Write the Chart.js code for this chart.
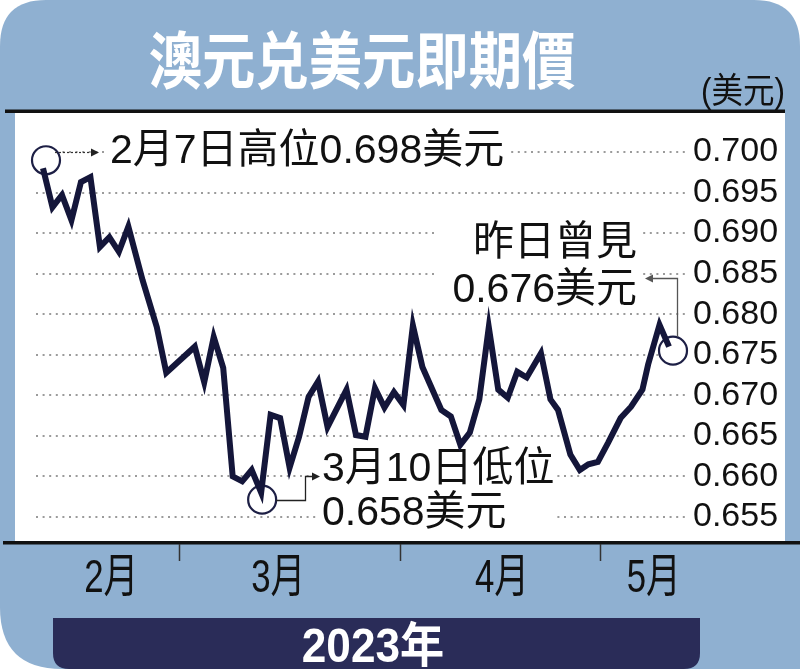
<!DOCTYPE html>
<html><head><meta charset="utf-8">
<script src="https://cdn.jsdelivr.net/npm/chart.js@4"></script>
<style>html,body{margin:0;padding:0;background:#fff;}canvas{display:block}</style>
</head><body>
<canvas id="c" width="800" height="669"></canvas>
<script>
// ---- data (trading-day index since 7 Feb 2023, AUD/USD spot) ----
const tradingDay = [0,1,2,3,4,5,6,7,8,9,10.5,12,13,16,17,18,19,20,21,22,23,24,25,26,27,28,29,30,32,33,34,35,36,37,38,39,40,42,43,44,45,46,47,48,49,50,51,52.5,53.5,54.3,55.6,56.6,57.5,58.5,59.6,60.9,62,63.2,63.8,65,66];
const audUsd = [0.698,0.6932,0.6947,0.6916,0.6963,0.6969,0.6883,0.6895,0.6877,0.6908,0.6842,0.6784,0.6728,0.6760,0.6716,0.6772,0.6734,0.6600,0.6594,0.6608,0.658,0.6676,0.6672,0.6611,0.6649,0.6698,0.6717,0.6661,0.6707,0.6651,0.6649,0.6709,0.6685,0.6704,0.6688,0.6786,0.6735,0.6682,0.6674,0.6639,0.6654,0.6695,0.6784,0.6707,0.6697,0.6729,0.6722,0.6752,0.6695,0.6682,0.6627,0.6608,0.6615,0.6618,0.6642,0.6672,0.6686,0.6707,0.6738,0.6787,0.676];
const yTickValues = [0.700,0.695,0.690,0.685,0.680,0.675,0.670,0.665,0.660,0.655];
const monthLabels = ['2月','3月','4月','5月'];
const monthLabelDay = [7.2,24.8,48.4,64.4];
const monthBoundaryDay = [14.3,37.6,58.7];
const titleText = '澳元兑美元即期價';
const unitText = '(美元)';
const yearText = '2023年';
const highNote = '2月7日高位0.698美元';
const lowNote = ['3月10日低位','0.658美元'];
const lastNote = ['昨日曾見','0.676美元'];
const highIdx = 0, lowIdx = 20, lastIdx = audUsd.length - 1;

const FONT = '"Liberation Sans","Noto Sans CJK TC",sans-serif';
function txt(ctx, s, x, y, size, o) {
  o = o || {};
  ctx.save();
  ctx.font = (o.weight || 'normal') + ' ' + size + 'px ' + FONT;
  ctx.fillStyle = o.color || '#111';
  ctx.textBaseline = 'alphabetic';
  ctx.textAlign = o.align || 'left';
  ctx.translate(x, y);
  ctx.scale(o.sx || 1, 1);
  ctx.fillText(s, 0, 0);
  ctx.restore();
}
function arrowHead(ctx, x, y, dir, color) {
  ctx.save(); ctx.fillStyle = color; ctx.beginPath();
  ctx.moveTo(x, y); ctx.lineTo(x - 8 * dir, y - 4); ctx.lineTo(x - 8 * dir, y + 4); ctx.closePath(); ctx.fill(); ctx.restore();
}

const decor = {
  id: 'decor',
  beforeDraw(chart) {
    const ctx = chart.ctx, W = chart.width, H = chart.height;
    ctx.save();
    ctx.fillStyle = '#fff'; ctx.fillRect(0, 0, W, H);
    // blue rounded background
    ctx.fillStyle = '#8fb0d1';
    ctx.beginPath();
    ctx.moveTo(46, 0); ctx.lineTo(W - 46, 0);
    ctx.quadraticCurveTo(W, 0, W, 46);
    ctx.lineTo(W, H); ctx.lineTo(62, H);
    ctx.quadraticCurveTo(0, H, 0, H - 62);
    ctx.lineTo(0, 46); ctx.quadraticCurveTo(0, 0, 46, 0);
    ctx.closePath(); ctx.fill();
    // white panel
    ctx.fillStyle = '#fff'; ctx.fillRect(15, 112, 770, 431);
    // rules
    ctx.fillStyle = '#111';
    ctx.fillRect(5, 109.5, 780, 3.5);
    ctx.fillRect(3, 541, W - 3, 3.5);
    // month boundary ticks
    const xs = chart.scales.x;
    ctx.strokeStyle = '#333'; ctx.lineWidth = 1.5;
    monthBoundaryDay.forEach(d => {
      const px = Math.round(xs.getPixelForValue(d)) + 0.5;
      ctx.beginPath(); ctx.moveTo(px, 544); ctx.lineTo(px, 561); ctx.stroke();
    });
    // month labels
    monthLabels.forEach((m, i) => {
      txt(ctx, m, xs.getPixelForValue(monthLabelDay[i]), 592, 47, {align: 'center', sx: 0.74, color: '#111'});
    });
    // title
    txt(ctx, titleText, 362, 84, 62, {weight: 'bold', color: '#fff', align: 'center', sx: 0.86});
    // unit
    txt(ctx, unitText, 743, 103, 35, {align: 'center', sx: 0.9});
    // year bar
    ctx.fillStyle = '#2a2c58';
    ctx.beginPath();
    ctx.moveTo(53, 618); ctx.lineTo(700, 618); ctx.lineTo(700, H - 16);
    ctx.quadraticCurveTo(700, H, 684, H); ctx.lineTo(69, H);
    ctx.quadraticCurveTo(53, H, 53, H - 16); ctx.closePath(); ctx.fill();
    txt(ctx, yearText, 373, 662, 48, {weight: 'bold', color: '#fff', align: 'center', sx: 0.92});
    ctx.restore();
  },
  beforeDatasetsDraw(chart) {
    const ctx = chart.ctx, xs = chart.scales.x, ys = chart.scales.y;
    const P = i => ({x: xs.getPixelForValue(tradingDay[i]), y: ys.getPixelForValue(audUsd[i])});
    ctx.save();
    // white text boxes
    ctx.fillStyle = '#fff';
    ctx.fillRect(106, 132, 402, 38);
    ctx.fillRect(437, 215, 204, 91);
    ctx.fillRect(318, 450, 238, 87);
    // circles
    const hi = P(highIdx), lo = P(lowIdx), la = P(lastIdx);
    const circles = [[hi.x + 3, hi.y - 8], [lo.x + 1, lo.y + 7], [la.x + 4, la.y + 4]];
    circles.forEach(c => {
      ctx.beginPath(); ctx.arc(c[0], c[1], 14, 0, Math.PI * 2);
      ctx.fillStyle = '#fff'; ctx.fill();
      ctx.lineWidth = 2.2; ctx.strokeStyle = '#1d1f45'; ctx.stroke();
    });
    // arrow 1 (dotted)
    ctx.strokeStyle = '#333'; ctx.lineWidth = 1.2; ctx.setLineDash([2, 2]);
    ctx.beginPath(); ctx.moveTo(circles[0][0] + 9, 152.5); ctx.lineTo(92, 152.5); ctx.stroke();
    ctx.setLineDash([]);
    arrowHead(ctx, 99, 152.5, 1, '#222');
    // arrow 2 (low)
    ctx.strokeStyle = '#222'; ctx.lineWidth = 1.3;
    ctx.beginPath(); ctx.moveTo(circles[1][0] + 14, 500.5); ctx.lineTo(305.5, 500.5); ctx.lineTo(305.5, 476.5); ctx.lineTo(312, 476.5); ctx.stroke();
    arrowHead(ctx, 320, 476.5, 1, '#222');
    // arrow 3 (last)
    ctx.strokeStyle = '#555'; ctx.lineWidth = 1.3;
    ctx.beginPath(); ctx.moveTo(677.5, circles[2][1] - 14); ctx.lineTo(677.5, 278.5); ctx.lineTo(652, 278.5); ctx.stroke();
    arrowHead(ctx, 645, 278.5, -1, '#555');
    // annotation texts
    txt(ctx, highNote, 110, 163, 41);
    txt(ctx, lowNote[0], 322, 481, 41);
    txt(ctx, lowNote[1], 322, 525, 41);
    txt(ctx, lastNote[0], 637, 255, 41, {align: 'right'});
    txt(ctx, lastNote[1], 637, 302, 41, {align: 'right'});
    ctx.restore();
  }
};

new Chart(document.getElementById('c'), {
  type: 'line',
  data: {
    datasets: [{
      data: tradingDay.map((d, i) => ({x: d, y: audUsd[i]})),
      borderColor: '#14163a',
      borderWidth: 6,
      borderJoinStyle: 'miter',
      borderCapStyle: 'butt',
      pointRadius: 0,
      tension: 0,
      fill: false
    }]
  },
  options: {
    responsive: false,
    animation: false,
    devicePixelRatio: 1,
    layout: {padding: {left: 36, top: 112, right: 0, bottom: 126}},
    plugins: {legend: {display: false}, tooltip: {enabled: false}},
    scales: {
      x: {type: 'linear', display: false, min: -0.738, max: 67.687},
      y: {
        type: 'linear', position: 'right',
        min: 0.651794, max: 0.704932,
        afterBuildTicks: s => { s.ticks = yTickValues.map(v => ({value: v})); },
        afterFit: s => { s.width = 115; },
        grid: {color: '#9b9b9b', lineWidth: 2, drawTicks: false},
        border: {display: false, dash: [2, 4.6]},
        ticks: {
          padding: 8, color: '#111',
          font: {family: '"Liberation Sans", Arial, sans-serif', size: 34},
          callback: v => v.toFixed(3)
        }
      }
    }
  },
  plugins: [decor]
});
</script>
</body></html>
